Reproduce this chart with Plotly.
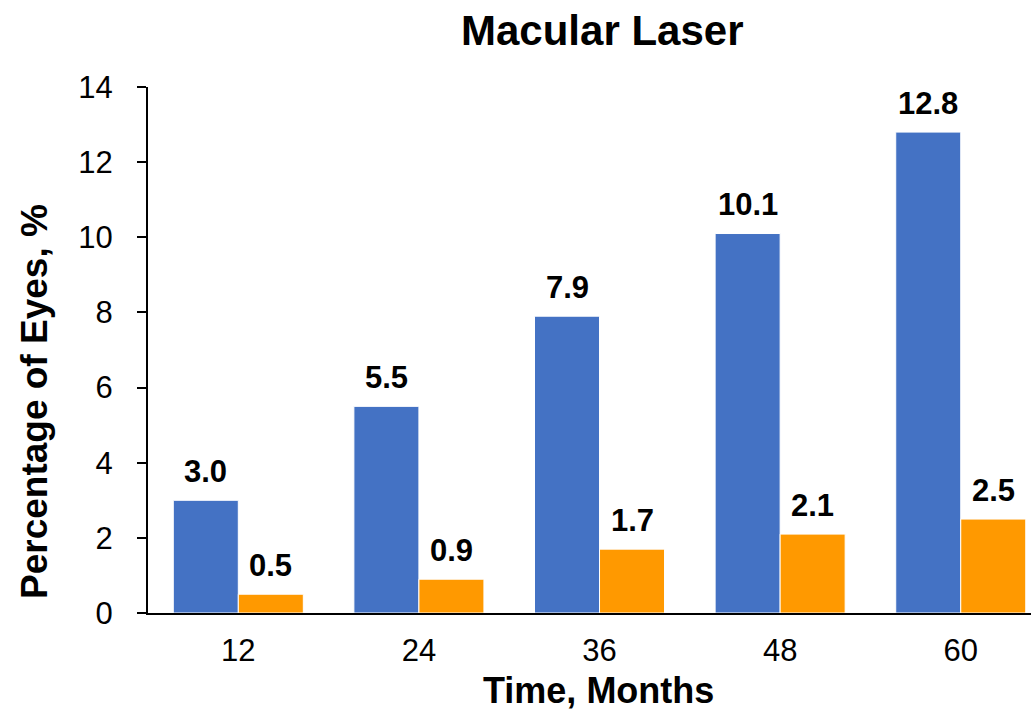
import plotly.graph_objects as go

months = ["12", "24", "36", "48", "60"]
series_a = [3.0, 5.5, 7.9, 10.1, 12.8]
series_b = [0.5, 0.9, 1.7, 2.1, 2.5]
y_ticks = [0, 2, 4, 6, 8, 10, 12, 14]

FONT = "Liberation Sans, Arial, sans-serif"
BLUE = "#4472C4"
ORANGE = "#FF9900"

fig = go.Figure()
fig.add_trace(go.Bar(x=months, y=series_a, marker=dict(color=BLUE, line=dict(color="white", width=1)),
                     showlegend=False, hoverinfo="y"))
fig.add_trace(go.Bar(x=months, y=series_b, marker=dict(color=ORANGE, line=dict(color="white", width=1)),
                     showlegend=False, hoverinfo="y"))

annotations = []
for i, m in enumerate(months):
    for vals, xs in ((series_a, -32.5), (series_b, 32.5)):
        annotations.append(dict(x=i, y=vals[i], xref="x", yref="y", text=f"<b>{vals[i]:.1f}</b>",
                                showarrow=False, xshift=xs, yshift=29, yanchor="middle",
                                font=dict(family=FONT, size=31, color="black")))

annotations.append(dict(text="<b>Macular Laser</b>", xref="paper", yref="paper", x=(602-148)/883, y=1 + (87-31)/526,
                        showarrow=False, xanchor="center", yanchor="middle",
                        font=dict(family=FONT, size=42, color="black")))
annotations.append(dict(text="<b>Time, Months</b>", xref="paper", yref="paper", x=(598-148)/883, y=-(690-613)/526,
                        showarrow=False, xanchor="center", yanchor="middle",
                        font=dict(family=FONT, size=36, color="black")))
annotations.append(dict(text="<b>Percentage of Eyes, %</b>", xref="paper", yref="paper", x=-(148-34)/883, y=(613-402)/526,
                        showarrow=False, xanchor="center", yanchor="middle", textangle=-90,
                        font=dict(family=FONT, size=37, color="black")))

fig.update_layout(
    width=1031, height=714,
    margin=dict(l=148, r=0, t=87, b=101),
    paper_bgcolor="white", plot_bgcolor="white",
    barmode="group", bargap=0.28, bargroupgap=0,
    annotations=annotations,
    font=dict(family=FONT, color="black"),
)
fig.update_xaxes(type="category", range=[-0.5, 4.389], showline=True, linecolor="black", linewidth=2,
                 ticks="", showgrid=False, tickfont=dict(family=FONT, size=31, color="black"),
                 ticklabelstandoff=9)
fig.update_yaxes(range=[0, 14], tickvals=y_ticks, showline=True, linecolor="black", linewidth=2,
                 ticks="outside", ticklen=9, tickwidth=2, tickcolor="black", showgrid=False, zeroline=False,
                 tickfont=dict(family=FONT, size=31, color="black"), ticklabelstandoff=18)

fig.write_html("out.html", config={"displayModeBar": False},
               post_script="document.body.style.margin='0';document.body.style.overflow='hidden';")
